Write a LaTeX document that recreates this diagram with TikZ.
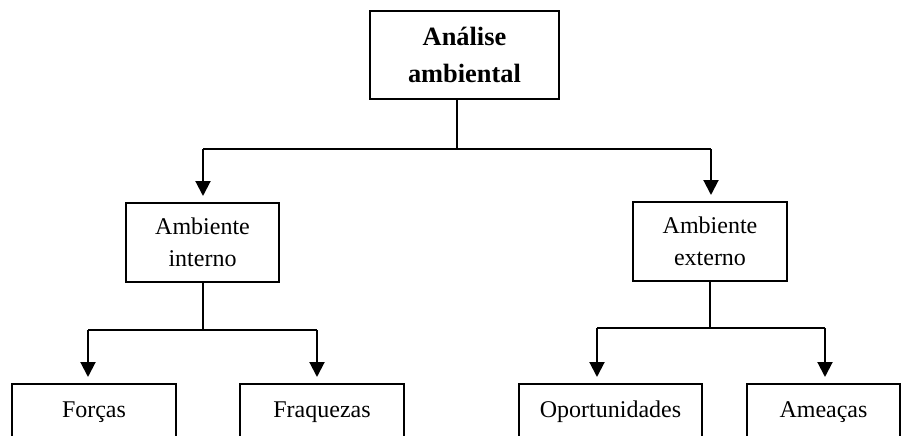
\documentclass[tikz,border=0pt]{standalone}
\usepackage{fontspec}
\setmainfont{Liberation Serif}
\usetikzlibrary{arrows.meta,positioning}
\tikzset{box/.style={draw, line width=1pt, align=center, inner sep=0pt, font=\fontsize{12}{16}\selectfont}}
\tikzset{leaf/.style={box, anchor=north, text height=16.5pt, text depth=22pt}}
\tikzset{arr/.style={draw, line width=1pt, -{Triangle[width=7.5pt,length=7.5pt]}, shorten >=3pt}}
\tikzset{ln/.style={draw, line width=1pt}}

\begin{document}
\begin{tikzpicture}[x=0.5pt, y=-0.5pt]
    \useasboundingbox (0,0) rectangle (902,435);
    \node[box, minimum width=94.5pt, minimum height=44pt, font=\fontsize{13.2}{18.5}\selectfont\bfseries] (AA) at (464.5,55) {Análise\\ambiental};
    \node[box, minimum width=76.5pt, minimum height=39.5pt] (AI) at (202.5,242.5) {Ambiente\\interno};
    \node[box, minimum width=77pt, minimum height=39.5pt] (AE) at (710,241.5) {Ambiente\\externo};
    \node[leaf, minimum width=82pt] (F) at (94,383) {Forças};
    \node[leaf, minimum width=82pt] (FR) at (322,383) {Fraquezas};
    \node[leaf, minimum width=91.5pt] (O) at (610.5,383) {Oportunidades};
    \node[leaf, minimum width=76.5pt] (AM) at (823.5,383) {Ameaças};

    \coordinate (top) at (457,149);
    \coordinate (topW) at (203,149);
    \coordinate (topE) at (711,149);
    \coordinate (inW) at (88,330);
    \coordinate (inE) at (317,330);
    \coordinate (exW) at (597,328);
    \coordinate (exE) at (825,328);

    \draw[ln] (top |- AA.south) -- (top);
    \draw[ln] (topW) -- (topE);
    \draw[arr] (topW) -- (topW |- AI.north);
    \draw[arr] (topE) -- (topE |- AE.north);

    \draw[ln] (AI.south) -- (AI.south |- inW);
    \draw[ln] (inW) -- (inE);
    \draw[arr] (inW) -- (inW |- F.north);
    \draw[arr] (inE) -- (inE |- FR.north);

    \draw[ln] (AE.south) -- (AE.south |- exW);
    \draw[ln] (exW) -- (exE);
    \draw[arr] (exW) -- (exW |- O.north);
    \draw[arr] (exE) -- (exE |- AM.north);
\end{tikzpicture}
\end{document}
